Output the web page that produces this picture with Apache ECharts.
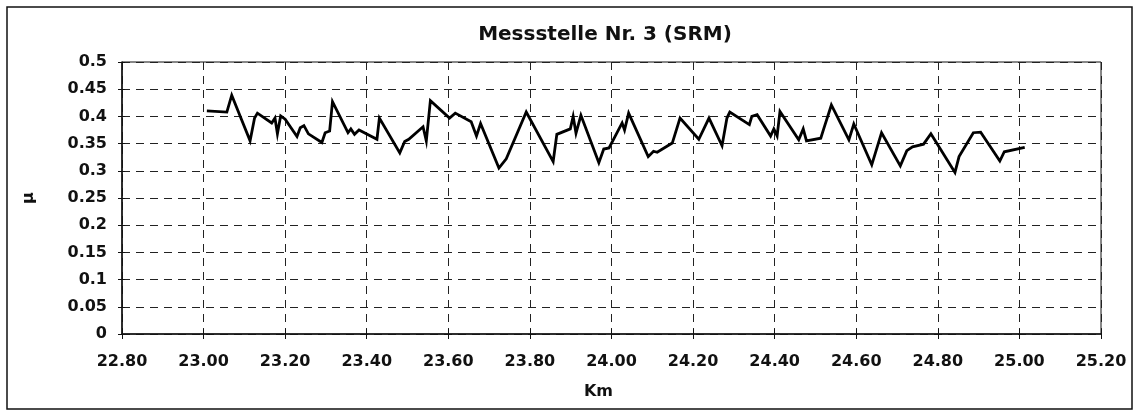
<!DOCTYPE html>
<html>
<head>
<meta charset="utf-8">
<script src="https://cdn.jsdelivr.net/npm/echarts@6/dist/echarts.min.js"></script>
<style>html,body{margin:0;padding:0;background:#fff}#c{width:1139px;height:415px}</style>
</head>
<body>
<div id="c"></div>
<script>
// Chart data
const chartTitle = 'Messstelle Nr. 3 (SRM)';
const xAxisName = 'Km';
const yAxisName = 'μ';

const km = [
  23.008, 23.057, 23.069, 23.114, 23.125, 23.132, 23.167, 23.175, 23.181, 23.189,
  23.200, 23.229, 23.237, 23.246, 23.257, 23.290, 23.298, 23.309, 23.316, 23.354,
  23.361, 23.370, 23.381, 23.425, 23.431, 23.481, 23.493, 23.503, 23.538, 23.546,
  23.556, 23.603, 23.617, 23.656, 23.669, 23.679, 23.724, 23.742, 23.791, 23.857,
  23.866, 23.899, 23.906, 23.913, 23.925, 23.969, 23.981, 23.994, 24.026, 24.032,
  24.042, 24.090, 24.103, 24.112, 24.149, 24.168, 24.214, 24.239, 24.271, 24.283,
  24.290, 24.338, 24.344, 24.357, 24.390, 24.398, 24.406, 24.413, 24.459, 24.470,
  24.478, 24.513, 24.521, 24.539, 24.582, 24.594, 24.638, 24.662, 24.708, 24.724,
  24.738, 24.765, 24.783, 24.842, 24.852, 24.887, 24.905, 24.952, 24.963, 25.013
];
const mu = [
  0.410, 0.408, 0.439, 0.355, 0.397, 0.406, 0.388, 0.397, 0.368, 0.401,
  0.395, 0.363, 0.379, 0.383, 0.368, 0.352, 0.370, 0.373, 0.427, 0.370,
  0.377, 0.367, 0.375, 0.358, 0.397, 0.333, 0.354, 0.358, 0.381, 0.355,
  0.429, 0.397, 0.406, 0.390, 0.364, 0.387, 0.305, 0.322, 0.408, 0.317,
  0.367, 0.377, 0.400, 0.369, 0.402, 0.315, 0.340, 0.342, 0.388, 0.375,
  0.406, 0.326, 0.336, 0.334, 0.351, 0.397, 0.358, 0.397, 0.346, 0.397,
  0.408, 0.385, 0.400, 0.403, 0.364, 0.377, 0.364, 0.409, 0.357, 0.377,
  0.355, 0.360, 0.379, 0.421, 0.357, 0.386, 0.311, 0.370, 0.309, 0.337,
  0.344, 0.349, 0.368, 0.297, 0.326, 0.370, 0.371, 0.318, 0.335, 0.343
];

const xMin = 22.8, xMax = 25.2, xStep = 0.2;
const yMin = 0, yMax = 0.5, yStep = 0.05;

const seriesData = km.map((k, i) => [k, mu[i]]);

const labelFont = {fontFamily: 'DejaVu Sans', fontWeight: 'bold', fontSize: 16, color: '#111'};
const gridDash = {type: [8, 6], color: '#222', width: 1};

const chart = echarts.init(document.getElementById('c'), null, {renderer: 'canvas'});
chart.setOption({
  animation: false,
  backgroundColor: '#fff',
  title: {
    text: chartTitle,
    left: 600,
    top: 20,
    textAlign: 'center',
    textStyle: {fontFamily: 'DejaVu Sans', fontWeight: 'bold', fontSize: 20, color: '#111'}
  },
  graphic: [{
    type: 'rect',
    silent: true,
    z: -1,
    shape: {x: 7, y: 7, width: 1125, height: 402},
    style: {fill: 'none', stroke: '#111', lineWidth: 1.5}
  }],
  grid: {
    left: 122, right: 38, top: 62, bottom: 81,
    show: true, borderColor: '#111', borderWidth: 1, backgroundColor: 'transparent'
  },
  xAxis: [{
    type: 'value',
    min: xMin, max: xMax, interval: xStep,
    position: 'bottom',
    axisLine: {show: true, onZero: false, lineStyle: {color: '#111', width: 1.5}},
    axisTick: {show: true, length: 5, lineStyle: {color: '#111'}},
    axisLabel: Object.assign({margin: 20, formatter: v => v.toFixed(2)}, labelFont),
    splitLine: {show: true, lineStyle: gridDash},
    name: xAxisName,
    nameLocation: 'middle',
    nameGap: 50,
    nameTextStyle: Object.assign({padding: [0, 26, 0, 0]}, labelFont)
  }, {
    type: 'value',
    min: xMin, max: xMax, interval: xStep,
    position: 'bottom',
    axisLine: {show: false},
    axisTick: {show: true, inside: true, length: 5, lineStyle: {color: '#111'}},
    axisLabel: {show: false},
    splitLine: {show: false}
  }],
  yAxis: [{
    type: 'value',
    min: yMin, max: yMax, interval: yStep,
    position: 'left',
    axisLine: {show: true, onZero: false, lineStyle: {color: '#111', width: 1.5}},
    axisTick: {show: true, length: 4, lineStyle: {color: '#111'}},
    axisLabel: Object.assign({margin: 15, formatter: v => String(+v.toFixed(2))}, labelFont),
    splitLine: {show: true, lineStyle: gridDash},
    name: yAxisName,
    nameLocation: 'middle',
    nameGap: 85,
    nameRotate: 90,
    nameTextStyle: labelFont
  }, {
    type: 'value',
    min: yMin, max: yMax, interval: yStep,
    position: 'left',
    axisLine: {show: false},
    axisTick: {show: true, inside: true, length: 3, lineStyle: {color: '#111'}},
    axisLabel: {show: false},
    splitLine: {show: false}
  }],
  series: [{
    type: 'line',
    data: seriesData,
    xAxisIndex: 0,
    yAxisIndex: 0,
    showSymbol: false,
    symbol: 'none',
    lineStyle: {color: '#000', width: 2.8, join: 'miter'},
    z: 5
  }]
});
</script>
</body>
</html>
